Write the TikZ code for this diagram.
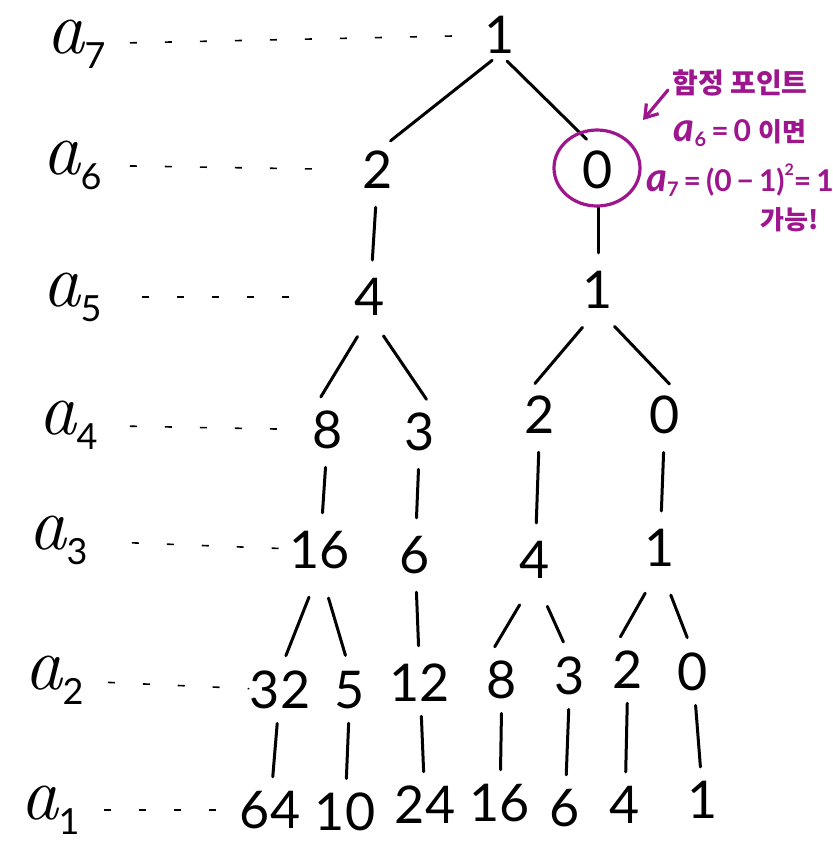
\documentclass[tikz,border=0pt]{standalone}
\usepackage{fontspec}
\newfontfamily\digitfont{Lato}
\newfontfamily\cjk{Noto Sans CJK KR}
\usetikzlibrary{arrows.meta,shapes.geometric}
\definecolor{mag}{RGB}{158,22,142}
\newcommand{\rowlab}[1]{\itshape a\raisebox{-0.2em}{\digitfont\fontsize{18}{20}\selectfont\upshape #1}}
\newcommand{\smalla}[1]{{\fontsize{20}{22}\selectfont\itshape a}\raisebox{-0.15em}{\digitfont\fontsize{10}{12}\selectfont #1}}
\begin{document}
\begin{tikzpicture}[x=0.5pt,y=-0.5pt,
  num/.style={inner sep=0pt, minimum height=18pt, font=\digitfont\fontsize{26}{30}\selectfont},
  lab/.style={inner sep=0pt, font=\fontsize{38}{44}\selectfont},
  wedge/.style={line width=1.5pt, line cap=round, shorten <=12pt, shorten >=8pt},
  stem/.style={line width=1.5pt, line cap=round, shorten <=9pt, shorten >=9pt},
  leader/.style={line width=0.8pt, dash pattern=on 3.5pt off 14pt},
  note/.style={inner sep=0pt, text=mag, font=\digitfont\bfseries\fontsize{15}{18}\selectfont},
  trap/.style={draw=mag, line width=1.6pt}]
\useasboundingbox (0,0) rectangle (833,843);
% row labels
\node[lab] (l7) at (76,44) {\rowlab{7}};
\node[lab] (l6) at (72,165) {\rowlab{6}};
\node[lab] (l5) at (72,297) {\rowlab{5}};
\node[lab] (l4) at (68,425) {\rowlab{4}};
\node[lab] (l3) at (58,540) {\rowlab{3}};
\node[lab] (l2) at (54,680) {\rowlab{2}};
\node[lab] (l1) at (50,810) {\rowlab{1}};
% tree nodes
\node[num] (n7) at (500,35) {1};
\node[num] (n6a) at (378,170) {2};
\node[num] (n6b) at (598,170) {0};
\node[num] (n5a) at (370,297) {4};
\node[num] (n5b) at (598,290) {1};
\node[num] (n4a) at (328,430) {8};
\node[num] (n4b) at (420,432) {3};
\node[num] (n4c) at (540,415) {2};
\node[num] (n4d) at (665,415) {0};
\node[num] (n3a) at (320,550) {16};
\node[num] (n3b) at (415,555) {6};
\node[num] (n3c) at (535,560) {4};
\node[num] (n3d) at (660,548) {1};
\node[num] (n2a) at (280,690) {32};
\node[num] (n2b) at (350,690) {5};
\node[num] (n2c) at (420,683) {12};
\node[num] (n2d) at (502,680) {8};
\node[num] (n2e) at (570,676) {3};
\node[num] (n2f) at (628,670) {2};
\node[num] (n2g) at (693,672) {0};
\node[num] (n1a) at (270,810) {64};
\node[num] (n1b) at (345,812) {10};
\node[num] (n1c) at (425,805) {24};
\node[num] (n1d) at (500,803) {16};
\node[num] (n1e) at (565,808) {6};
\node[num] (n1f) at (625,805) {4};
\node[num] (n1g) at (703,800) {1};
% leaders
\draw[leader, shorten <=12pt, shorten >=6pt] (l7) -- (n7);
\draw[leader, shorten <=14pt, shorten >=22pt] (l6) -- (n6a);
\draw[leader, shorten <=20pt, shorten >=30pt] (l5) -- (n5a);
\draw[leader, shorten <=16pt, shorten >=12pt] (l4) -- (n4a);
\draw[leader, shorten <=22pt, shorten >=2pt] (l3) -- (n3a);
\draw[leader, shorten <=12pt, shorten >=0pt] (l2) -- (n2a);
\draw[leader, shorten <=12pt, shorten >=4pt] (l1) -- (n1a);
% connectors
\draw[wedge, shorten <=5pt] (n7.south) -- (n6a.north);
\draw[wedge, shorten <=5pt] (n7.south) -- (n6b.north);
\draw[stem] (n6a) -- (n5a);
\draw[stem] (n6b) -- (n5b);
\draw[wedge] (n5a.south) -- (n4a.north west);
\draw[wedge] (n5a.south) -- (n4b.north east);
\draw[wedge] (n5b.south) -- (n4c.north west);
\draw[wedge] (n5b.south) -- (n4d.north east);
\draw[stem] (n4a) -- (n3a);
\draw[stem] (n4b) -- (n3b);
\draw[stem] (n4c) -- (n3c);
\draw[stem] (n4d) -- (n3d);
\draw[wedge, shorten <=15pt] (n3a.south) -- (n2a.north);
\draw[wedge, shorten <=15pt] (n3a.south) -- (n2b.north);
\draw[stem] (n3b) -- (n2c);
\draw[wedge, shorten <=15pt] (n3c.south) -- (n2d.north west);
\draw[wedge, shorten <=15pt] (n3c.south) -- (n2e.north);
\draw[wedge, shorten <=15pt] (n3d.south) -- (n2f.north west);
\draw[wedge, shorten <=15pt] (n3d.south) -- (n2g.north);
\draw[stem, shorten <=7pt, shorten >=7pt] (n2a) -- (n1a);
\draw[stem, shorten <=7pt, shorten >=7pt] (n2b) -- (n1b);
\draw[stem, shorten <=7pt, shorten >=7pt] (n2c) -- (n1c);
\draw[stem, shorten <=7pt, shorten >=7pt] (n2d) -- (n1d);
\draw[stem, shorten <=7pt, shorten >=7pt] (n2e) -- (n1e);
\draw[stem, shorten <=7pt, shorten >=7pt] (n2f) -- (n1f);
\draw[stem, shorten <=7pt, shorten >=7pt] (n2g) -- (n1g);
% annotation
\node[trap, ellipse, minimum width=43pt, minimum height=38pt, inner sep=0pt] (ring) at (597,168) {};
\node[note] (t1) at (740,83) {\cjk\bfseries\fontsize{14}{16}\selectfont 함정 포인트};
\node[note] (t2) at (740,133) {\smalla{6}\,=\,0 {\cjk\bfseries\fontsize{13}{16}\selectfont 이면}};
\node[note] (t3) at (740,180) {\smalla{7}\,=\,(0\,−\,1)\raisebox{0.55em}{\fontsize{8}{10}\selectfont 2}=\,1};
\node[note] (t4) at (790,220) {\cjk\bfseries\fontsize{13}{16}\selectfont 가능!};
\coordinate (arrS) at (668,90);
\coordinate (arrE) at (643,120);
\draw[trap, line cap=round, -{Straight Barb[length=6pt,width=8pt]}] (arrS) -- (arrE);
\end{tikzpicture}
\end{document}
